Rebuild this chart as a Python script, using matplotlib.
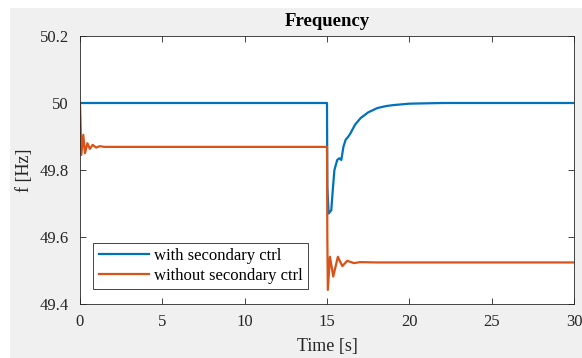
import matplotlib
matplotlib.use("Agg")
import matplotlib.pyplot as plt
from matplotlib.patches import Rectangle

# ---- data ----
t_with = [0.0, 15.0, 15.02, 15.1, 15.26, 15.35, 15.45, 15.62, 15.75, 15.87,
          16.0, 16.13, 16.3, 16.43, 16.7, 17.04, 17.5, 18.06, 18.6, 19.07,
          20.0, 22.0, 25.0, 30.0]
f_with = [50.0, 50.0, 49.75, 49.67, 49.68, 49.74, 49.80, 49.83, 49.835, 49.83,
          49.87, 49.89, 49.90, 49.91, 49.935, 49.955, 49.972, 49.985, 49.991, 49.994,
          49.998, 50.0, 50.0, 50.0]

t_without = [0.0, 0.03, 0.08, 0.2, 0.3, 0.45, 0.6, 0.77, 0.98, 1.2, 1.5, 15.0,
             15.02, 15.05, 15.18, 15.38, 15.66, 15.93, 16.23, 16.64, 17.0, 18.0,
             30.0]
f_without = [50.0, 49.95, 49.845, 49.905, 49.85, 49.88, 49.863, 49.875, 49.867,
             49.871, 49.869, 49.869,
             49.60, 49.442, 49.541, 49.482, 49.541, 49.513, 49.529, 49.522, 49.525,
             49.524, 49.524]

labels = ["with secondary ctrl", "without secondary ctrl"]
xticks = [0, 5, 10, 15, 20, 25, 30]
yticks = [49.4, 49.6, 49.8, 50.0, 50.2]
yticklabels = ["49.4", "49.6", "49.8", "50", "50.2"]

plt.rcParams['font.family'] = ['Liberation Serif', 'DejaVu Serif']

fig = plt.figure(figsize=(5.82, 3.58), dpi=100)
fig.patch.set_facecolor('white')
fig.patches.append(Rectangle((10/582, 0), 1 - 10/582, 1 - 8/358,
                             transform=fig.transFigure, facecolor='#f0f0f0',
                             edgecolor='none', zorder=-10))

ax = fig.add_axes([80/582, 1 - 304/358, (574 - 80)/582, (304 - 36)/358])
ax.set_facecolor('white')
ax.plot(t_with, f_with, color='#0072BD', lw=1.6, label=labels[0])
ax.plot(t_without, f_without, color='#D95319', lw=1.6, label=labels[1])

ax.set_xlim(0, 30)
ax.set_ylim(49.4, 50.2)
ax.set_xticks(xticks)
ax.set_yticks(yticks)
ax.set_yticklabels(yticklabels)
ax.tick_params(direction='in', length=4, width=0.6, colors='#262626',
               labelsize=12, top=True, right=True)
ax.tick_params(axis='x', pad=7.5)
ax.tick_params(axis='y', pad=8)
for s in ax.spines.values():
    s.set_linewidth(0.6)
    s.set_color('#262626')

ax.set_title("Frequency", fontsize=13.5, fontweight='bold', pad=7)
ax.set_xlabel("Time [s]", fontsize=13, color='#262626', labelpad=5.5)
ax.set_ylabel("f [Hz]", fontsize=13, color='#262626', labelpad=5)

leg = ax.legend(loc='lower left', bbox_to_anchor=(13/494, 15/268),
                fontsize=12, frameon=True, fancybox=False, framealpha=1,
                edgecolor='#262626', handlelength=3.05, borderpad=0.33,
                labelspacing=0.2, handletextpad=0.25, borderaxespad=0)
leg.get_frame().set_linewidth(0.6)

fig.savefig("out.png", dpi=100, facecolor=fig.get_facecolor())
